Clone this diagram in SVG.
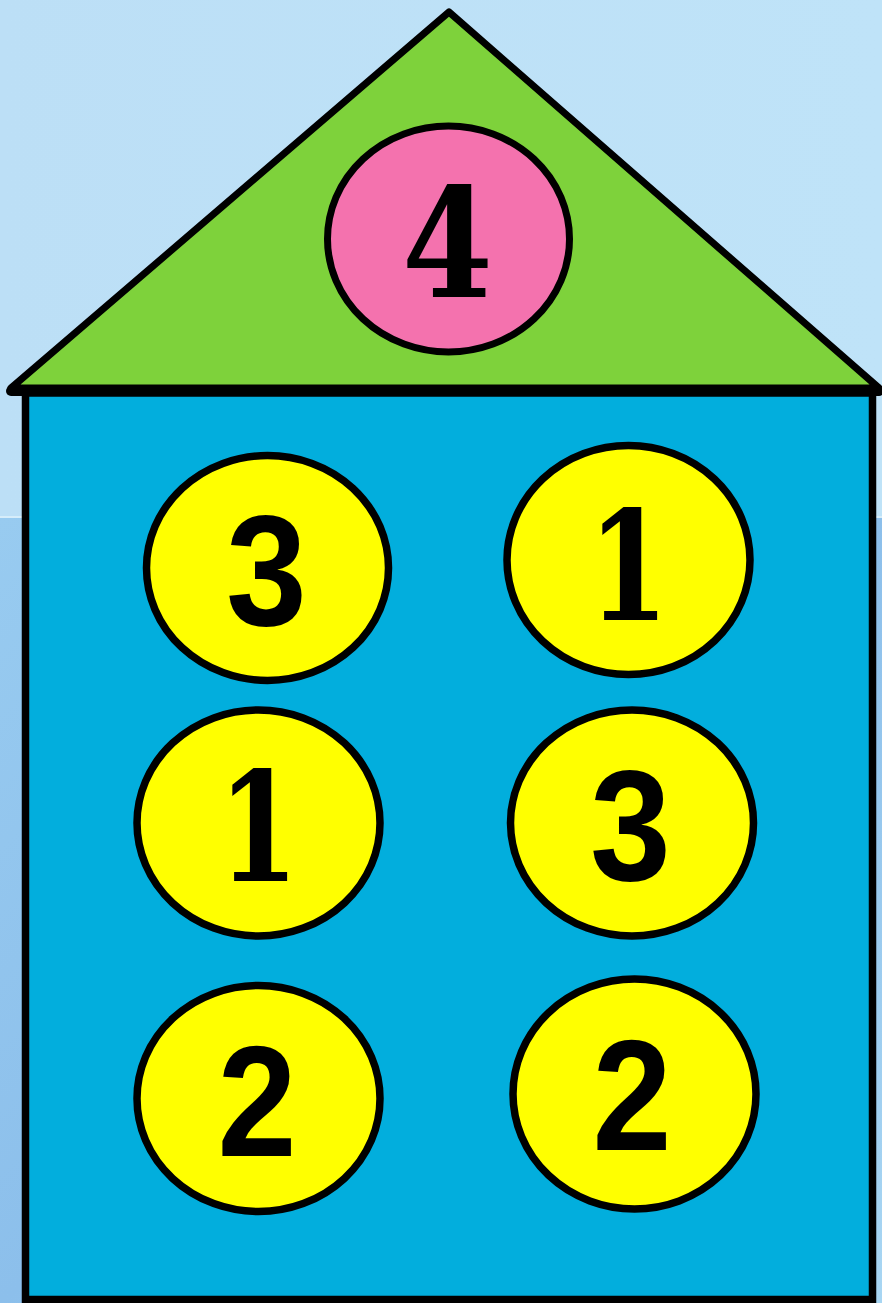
<svg xmlns="http://www.w3.org/2000/svg" width="882" height="1303" viewBox="0 0 882 1303">
  <defs>
    <linearGradient id="bgTop" x1="0" y1="0" x2="1" y2="0">
      <stop offset="0" stop-color="#BCDFF6"/>
      <stop offset="1" stop-color="#BFE3F8"/>
    </linearGradient>
    <linearGradient id="bgBot" x1="0" y1="0" x2="1" y2="1">
      <stop offset="0" stop-color="#98CBF0"/>
      <stop offset="0.5" stop-color="#8CBFEB"/>
      <stop offset="1" stop-color="#A8D6F3"/>
    </linearGradient>
    <style>
      .ball { fill: #FFFF00; stroke: #000; stroke-width: 7.5; }
      .slab { font-family: 'DejaVu Serif', serif; font-weight: bold; font-size: 152px; fill: #000; text-anchor: middle; }
      .sans { font-family: 'Liberation Sans', 'DejaVu Sans', sans-serif; font-weight: bold; font-size: 158px; fill: #000; text-anchor: middle; }
    </style>
  </defs>

  <!-- background -->
  <rect x="0" y="0" width="882" height="518" fill="url(#bgTop)"/>
  <rect x="0" y="518" width="882" height="785" fill="url(#bgBot)"/>
  <rect x="0" y="516" width="882" height="2" fill="#D6EDFA"/>

  <!-- house body -->
  <g id="body">
    <rect x="25.5" y="393" width="847" height="906.5" fill="#02AEDD" stroke="#000" stroke-width="7.5"/>
  </g>

  <!-- roof -->
  <g id="roof">
    <polygon points="449,12 11,388 879,388" fill="#7ED23B" stroke="#000" stroke-width="7" stroke-linejoin="round"/>
    <line x1="11" y1="391" x2="879" y2="391" stroke="#000" stroke-width="10" stroke-linecap="round"/>
  </g>

  <g id="node-top">
    <ellipse cx="448.5" cy="239" rx="121" ry="113" fill="#F472AE" stroke="#000" stroke-width="7"/>
    <text class="slab" x="0" y="297" transform="translate(447.5 0) scale(0.86 1)">4</text>
  </g>

  <g id="node-r1-left">
    <ellipse class="ball" cx="267.5" cy="568" rx="121" ry="112.5"/>
    <text class="sans" x="0" y="625" transform="translate(266.5 0) scale(0.92 1)">3</text>
  </g>
  <g id="node-r1-right">
    <ellipse class="ball" cx="628.5" cy="560" rx="121.5" ry="114.5" stroke-width="8.5"/>
    <text class="slab" x="0" y="620" transform="translate(628.5 0) scale(0.76 1)">1</text>
  </g>
  <g id="node-r2-left">
    <ellipse class="ball" cx="258.5" cy="823" rx="121.5" ry="113"/>
    <text class="slab" x="0" y="881" transform="translate(258.5 0) scale(0.76 1)">1</text>
  </g>
  <g id="node-r2-right">
    <ellipse class="ball" cx="632" cy="823" rx="121.5" ry="113"/>
    <text class="sans" x="0" y="880" transform="translate(630.5 0) scale(0.92 1)">3</text>
  </g>
  <g id="node-r3-left">
    <ellipse class="ball" cx="258.5" cy="1098.5" rx="121.5" ry="113"/>
    <text class="sans" x="0" y="1156" transform="translate(257 0) scale(0.9 1)">2</text>
  </g>
  <g id="node-r3-right">
    <ellipse class="ball" cx="634.5" cy="1094" rx="121.5" ry="115"/>
    <text class="sans" x="0" y="1150" transform="translate(632 0) scale(0.9 1)">2</text>
  </g>

  <g id="connectors"></g>
</svg>
